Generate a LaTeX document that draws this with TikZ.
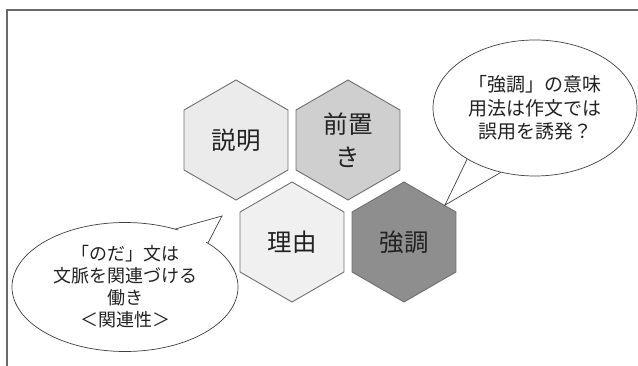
\documentclass[tikz,border=0pt]{standalone}
\usepackage{fontspec}
\setmainfont{Noto Sans CJK JP}
\usetikzlibrary{shapes.geometric}
\definecolor{hexline}{HTML}{707070}
\definecolor{hexA}{HTML}{EBEBEB}
\definecolor{hexB}{HTML}{CFCFCF}
\definecolor{hexC}{HTML}{F0F0F0}
\definecolor{hexD}{HTML}{8E8E8E}
\definecolor{txt}{HTML}{222222}
\definecolor{framec}{HTML}{6A6A6A}
\tikzset{
  hexa/.style={regular polygon, regular polygon sides=6, shape border rotate=30,
    minimum size=120pt, inner sep=0pt, draw=hexline, line width=0.9pt,
    text=txt, align=center, font=\fontsize{24.5}{33}\selectfont},
  bubble/.style={ellipse, draw=black!75, line width=0.7pt, fill=white, inner sep=0pt,
    text=txt, align=center},
  tailline/.style={draw=black!75, line width=0.7pt, line join=miter},
}
\begin{document}
\begin{tikzpicture}[x=1pt,y=-1pt]
\useasboundingbox (0,0) rectangle (638,366);
% frame
\draw[framec, line width=2pt] (6.5,366) -- (6.5,10.5) -- (638,10.5);
% hexagons
\node[hexa, fill=hexA] (a) at (236,140) {説明};
\node[hexa, fill=hexB] (b) at (348,140) {前置\\き};
\node[hexa, fill=hexC] (c) at (292,242) {理由};
\node[hexa, fill=hexD] (d) at (404,242) {強調};
% left bubble
\node[bubble, minimum width=226pt, minimum height=129pt, font=\fontsize{18}{22}\selectfont]
  (l) at (125,287) {「のだ」文は\\文脈を関連づける\\働き\\＜関連性＞};
\coordinate (lt) at (222,216);
\fill[white] ([shift={(-2,3)}]l.49) -- (lt) -- ([shift={(-3,1)}]l.28) -- cycle;
\draw[tailline] (l.49) -- (lt) -- (l.28);
% right bubble
\node[bubble, minimum width=204pt, minimum height=136pt, font=\fontsize{19}{23.5}\selectfont]
  (r) at (535,108) {「強調」の意味\\用法は作文では\\誤用を誘発？};
\coordinate (rt) at (d.42);
\fill[white] ([shift={(3,3)}]r.217) -- (rt) -- ([shift={(1,4)}]r.242) -- cycle;
\draw[tailline] (r.217) -- (rt) -- (r.242);
\end{tikzpicture}
\end{document}
